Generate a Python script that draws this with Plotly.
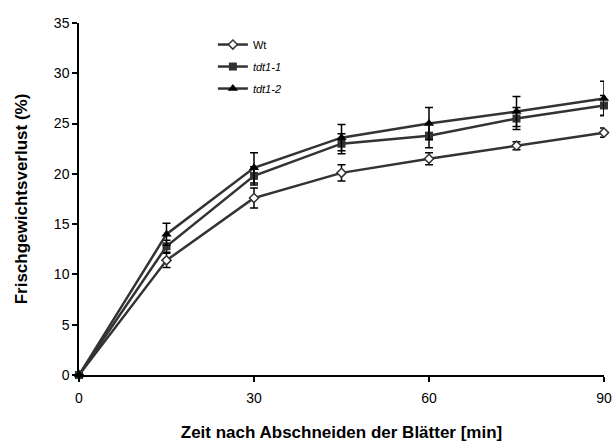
import plotly.graph_objects as go

# Time after cutting the leaves (min)
time_min = [0, 15, 30, 45, 60, 75, 90]

# Fresh weight loss (%) and standard errors per line
wt_mean = [0, 11.4, 17.6, 20.1, 21.5, 22.8, 24.1]
wt_err = [0, 0.7, 1.0, 0.8, 0.6, 0.4, 0.45]

tdt1_1_mean = [0, 12.8, 19.8, 23.0, 23.8, 25.5, 26.8]
tdt1_1_err = [0, 0.6, 0.9, 1.0, 1.2, 1.1, 1.0]

tdt1_2_mean = [0, 14.0, 20.6, 23.6, 25.0, 26.2, 27.5]
tdt1_2_err = [0, 1.1, 1.5, 1.3, 1.6, 1.5, 1.7]

series_names = ["Wt", "<i>tdt1-1</i>", "<i>tdt1-2</i>"]

x_ticks = [0, 30, 60, 90]
y_ticks = [0, 5, 10, 15, 20, 25, 30, 35]

LINE = "#333333"
FONT = "Liberation Sans, Arial, sans-serif"

series = [
    (series_names[0], wt_mean, wt_err,
     dict(symbol="diamond", size=7, color="white", line=dict(color=LINE, width=1.5))),
    (series_names[1], tdt1_1_mean, tdt1_1_err,
     dict(symbol="square", size=8, color=LINE, line=dict(color=LINE, width=0))),
    (series_names[2], tdt1_2_mean, tdt1_2_err,
     dict(symbol="triangle-up", size=9, color="black", line=dict(color="black", width=0))),
]

fig = go.Figure()
for i, (name, mean, err, marker) in enumerate(series):
    fig.add_trace(go.Scatter(
        x=time_min, y=mean, name=name, mode="lines+markers",
        legendgroup=f"g{i}",
        line=dict(color=LINE, width=2.5),
        marker=marker,
        error_y=dict(type="data", array=err, visible=True,
                     color="black", thickness=1.5, width=4),
        cliponaxis=False,
    ))

fig.update_layout(
    width=616, height=446,
    margin=dict(l=79, r=12, t=23, b=71),
    paper_bgcolor="white", plot_bgcolor="white",
    font=dict(family=FONT, color="black", size=14),
    showlegend=True,
    legend=dict(
        x=0.255, y=0.98, xanchor="left", yanchor="top",
        bgcolor="rgba(0,0,0,0)", font=dict(size=11, family=FONT),
        tracegroupgap=3, itemwidth=30,
    ),
    xaxis=dict(
        range=[0, 90], tickvals=x_ticks, ticks="outside", ticklen=5,
        tickwidth=1.5, tickcolor="black", automargin=False,
        showline=True, linecolor="black", linewidth=1.5,
        showgrid=False, zeroline=False,
        tickfont=dict(size=14), ticklabelstandoff=4,
        title=dict(text="<b>Zeit nach Abschneiden der Blätter [min]</b>",
                   font=dict(size=17), standoff=22),
    ),
    yaxis=dict(
        range=[0, 35], tickvals=y_ticks, ticks="outside", ticklen=5,
        tickwidth=1.5, tickcolor="black", automargin=False,
        showline=True, linecolor="black", linewidth=1.5,
        showgrid=False, zeroline=False,
        tickfont=dict(size=14),
        title=dict(text="<b>Frischgewichtsverlust (%)</b>",
                   font=dict(size=17), standoff=22),
    ),
)

fig.write_html("out.html")
